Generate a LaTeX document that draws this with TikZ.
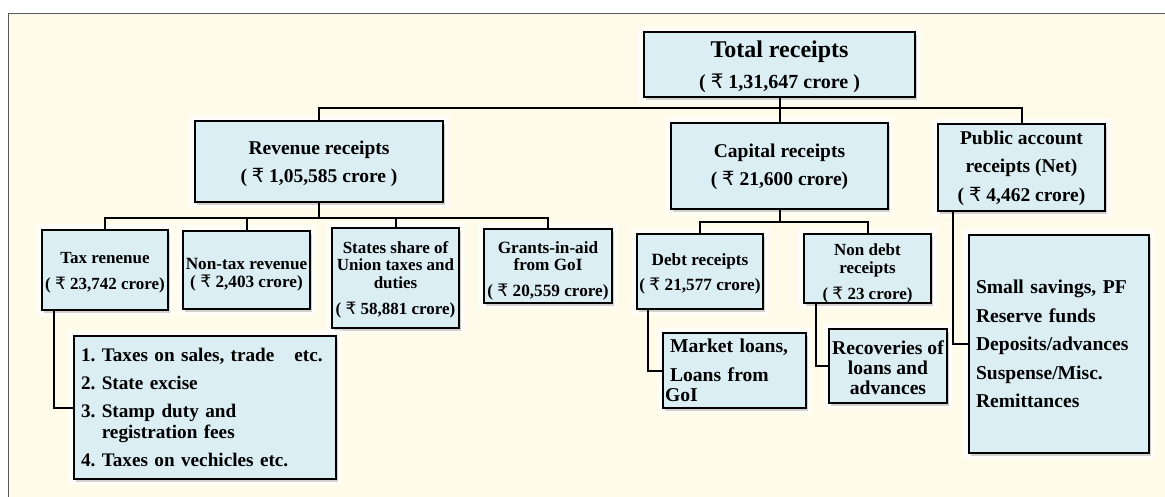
\documentclass[tikz,border=0pt]{standalone}
\usepackage{fontspec}
\setmainfont{Liberation Serif}
\newfontfamily\rsfont{DejaVu Sans}
\usetikzlibrary{shadows}
\frenchspacing

\definecolor{paper}{HTML}{FEFBE8}
\definecolor{boxblue}{HTML}{DBEEF3}
\definecolor{framegray}{HTML}{5A5A5A}
\newcommand{\rs}{{\rsfont\mdseries ₹}}
\newcommand{\setfs}[2]{\bfseries\fontsize{#1}{#2}\selectfont}
\newcommand{\pushdown}[1]{\rule{0pt}{#1}}

\begin{document}
\begin{tikzpicture}[x=1pt, y=-1pt,
  box/.style={draw, line width=2pt, fill=boxblue, inner sep=0pt, align=center,
    preaction={draw=white, line width=12pt, opacity=.7, rounded corners=6pt},
    drop shadow={shadow xshift=2pt, shadow yshift=-3pt, opacity=.35}},
  link/.style={line width=2pt}]

\useasboundingbox (0,0) rectangle (1165,496);
\fill[white] (0,0) rectangle (1165,496);
\draw[fill=paper, draw=framegray, line width=1pt] (8,13) rectangle (1180,510);

% TOTAL
\node[box, minimum width=271, minimum height=65, font=\setfs{20}{31}] (total) at (779.5,64.5)
  {{\fontsize{24}{31}\selectfont\pushdown{20.5pt}Total receipts}\\( \rs{} 1,31,647 crore )};

% MAIN HEADS
\node[box, minimum width=248, minimum height=81, font=\setfs{19.5}{28}] (revenue) at (319,161.5)
  {\pushdown{19pt}Revenue receipts\\( \rs{} 1,05,585 crore )};
\node[box, minimum width=217, minimum height=86, font=\setfs{19.5}{28}] (capital) at (779.5,166)
  {\pushdown{15pt}Capital receipts\\( \rs{} 21,600 crore)};
\node[box, minimum width=167, minimum height=87, font=\setfs{19.5}{28.5}] (public) at (1021.5,167.5)
  {\pushdown{15pt}Public account\\receipts (Net)\\( \rs{} 4,462 crore)};

% SUB HEADS
\node[box, minimum width=126, minimum height=80, font=\setfs{17}{26}] (tax) at (105,270)
  {\pushdown{17.5pt}Tax renenue\\( \rs{} 23,742 crore)};
\node[box, minimum width=127, minimum height=78, font=\setfs{17.2}{18.5}] (nontax) at (246.5,270)
  {\pushdown{21pt}Non-tax revenue\\( \rs{} 2,403 crore)};
\node[box, minimum width=127, minimum height=100, font=\setfs{17}{17.5}] (states) at (395.5,278)
  {\pushdown{15.5pt}States share of\\Union taxes and\\duties\\[8.5pt]( \rs{} 58,881 crore)};
\node[box, minimum width=128, minimum height=74, font=\setfs{17.2}{17}] (grants) at (548,266)
  {\pushdown{22pt}Grants-in-aid\\from GoI\\[9pt]( \rs{} 20,559 crore)};
\node[box, minimum width=126, minimum height=75, font=\setfs{17.2}{25}] (debt) at (700,271.5)
  {\pushdown{16pt}Debt receipts\\( \rs{} 21,577 crore)};
\node[box, minimum width=127, minimum height=69, font=\setfs{17}{18}] (nondebt) at (867.5,268.5)
  {\pushdown{22pt}Non debt\\receipts\\[8pt]( \rs{} 23 crore)};

% DETAILS
\node[box, minimum width=262, minimum height=143, text width=248, inner xsep=7, align=left,
  font=\setfs{19.2}{28}] (taxlist) at (205,407.5)
  {\mbox{1. Taxes on sales, trade\hspace{20pt}etc.}\\2. State excise\\3. Stamp duty and\\[-7pt]%
   \phantom{3. }registration fees\\4. Taxes on vechicles etc.};
\node[box, minimum width=143, minimum height=75, text width=139, inner xsep=2, align=left,
  font=\setfs{19.6}{29}] (market) at (734.5,370.5)
  {\hspace*{5pt}Market loans,\\\hspace*{5pt}Loans from\\[-9pt]GoI};
\node[box, minimum width=118, minimum height=74, font=\setfs{19.6}{20}] (recover) at (888,366)
  {\pushdown{17.5pt}Recoveries of\\loans and\\advances};
\node[box, minimum width=180, minimum height=218, text width=166, inner xsep=7, align=left,
  font=\setfs{19.6}{28.5}] (publist) at (1059,344)
  {Small savings, PF\\Reserve funds\\Deposits/advances\\Suspense/Misc.\\Remittances};

% LINKS
\draw[link] (total.south) -- (capital.north);
\draw[link] (revenue.north) -- ++(0,-12) -| (public.north);
\draw[link] (revenue.south) -- ++(0,15) coordinate (revbus);
\draw[link] (tax.north) |- (revbus) -| (grants.north);
\draw[link] (nontax.north) -- (nontax.north |- revbus);
\draw[link] (states.north) -- (states.north |- revbus);
\draw[link] (capital.south) -- ++(0,12) coordinate (capbus);
\draw[link] (debt.north) |- (capbus) -| (nondebt.north);
\draw[link] ([xshift=13pt]tax.south west) |- (taxlist.west);
\draw[link] ([xshift=12pt]debt.south west) |- (market.west);
\draw[link] ([xshift=13pt]nondebt.south west) |- (recover.west);
\draw[link] ([xshift=16pt]public.south west) |- (publist.west);

\end{tikzpicture}
\end{document}
